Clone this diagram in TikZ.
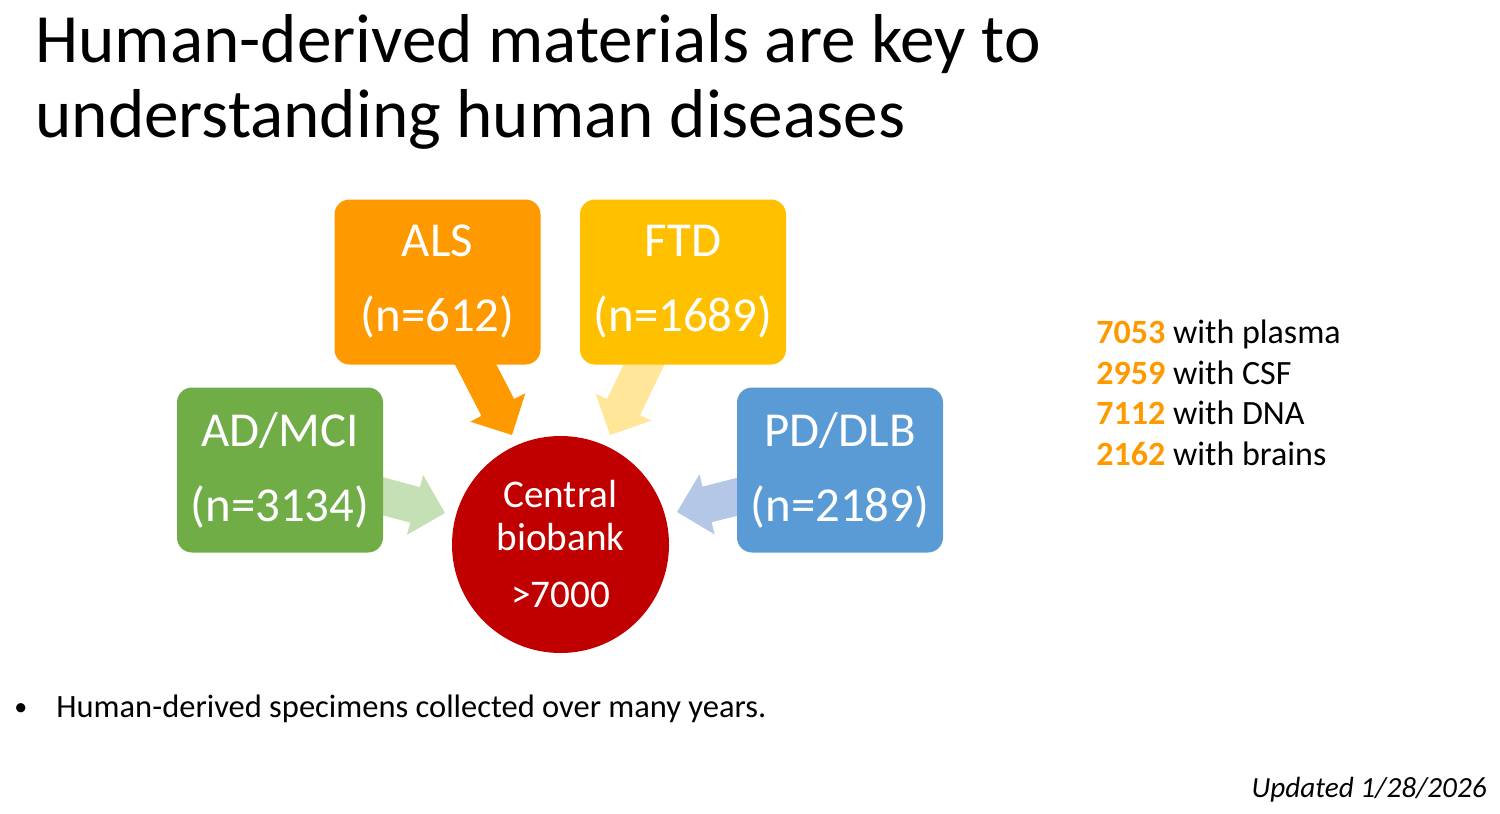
\documentclass[tikz,border=0pt]{standalone}
\usepackage{fontspec}
\setmainfont{Carlito}
\usetikzlibrary{calc,backgrounds}
\definecolor{alsor}{HTML}{FF9900}
\definecolor{ftdy}{HTML}{FFC000}
\definecolor{adg}{HTML}{70AD47}
\definecolor{pdb}{HTML}{5B9BD5}
\definecolor{cred}{HTML}{C00000}
\definecolor{ftdarr}{HTML}{FFE699}
\definecolor{adarr}{HTML}{C5E0B4}
\definecolor{pdarr}{HTML}{B4C7E7}
\definecolor{numor}{HTML}{FF9900}
\tikzset{
  dbox/.style={rounded corners=7.5pt, minimum width=103pt, minimum height=82.5pt,
    text=white, align=center, font=\fontsize{24.4}{37.5}\selectfont, inner sep=0pt},
  listtxt/.style={anchor=base west, inner sep=0pt, font=\fontsize{17}{20}\selectfont},
  titletxt/.style={anchor=base west, inner sep=0pt, font=\fontsize{34.6}{40}\selectfont},
}
\newcommand\blockarrow[3]{%
  \path (#3) coordinate (ba-t) ($(#3)!15.5pt!(#2)$) coordinate (ba-h);
  \fill[#1] ($(#2)!9.2pt!90:(ba-t)$) -- ($(ba-h)!9.2pt!90:(ba-t)$)
    -- ($(ba-h)!15.5pt!90:(ba-t)$) -- (ba-t)
    -- ($(ba-h)!15.5pt!-90:(ba-t)$) -- ($(ba-h)!9.2pt!-90:(ba-t)$)
    -- ($(#2)!9.2pt!-90:(ba-t)$) -- cycle;
}
\begin{document}
\begin{tikzpicture}[x=0.5pt,y=-0.5pt]
\useasboundingbox (0,0) rectangle (1500,814);
% title
\node[titletxt] (t1) at (35,62) {Human-derived materials are key to};
\node[titletxt] (t2) at (35,137) {understanding human diseases};
% boxes
\node[dbox, fill=alsor] (als) at (437.5,282) {ALS\\(n=612)};
\node[dbox, fill=ftdy] (ftd) at (683,282) {FTD\\(n=1689)};
\node[dbox, fill=adg] (ad) at (280,470) {AD/MCI\\(n=3134)};
\node[dbox, fill=pdb] (pd) at (840,470) {PD/DLB\\(n=2189)};
\node[circle, fill=cred, minimum size=108.5pt, inner sep=0pt, text=white, align=center,
  font=\fontsize{19.6}{21.5}\selectfont] (bank) at (560.5,544.5) {Central\\biobank\\[7pt]>7000};
% arrow end points
\coordinate (als-s) at (463,340);
\coordinate (als-t) at (512,435);
\coordinate (ftd-s) at (656,340);
\coordinate (ftd-t) at (610,435);
\coordinate (ad-s) at (360,490);
\coordinate (ad-t) at (445,513);
\coordinate (pd-s) at (760,491);
\coordinate (pd-t) at (677,512);
\begin{pgfonlayer}{background}
  \blockarrow{alsor}{als-s}{als-t}
  \blockarrow{ftdarr}{ftd-s}{ftd-t}
  \blockarrow{adarr}{ad-s}{ad-t}
  \blockarrow{pdarr}{pd-s}{pd-t}
\end{pgfonlayer}
% list
\node[listtxt] (l1) at (1096,343) {\textbf{\textcolor{numor}{7053}} with plasma};
\node[listtxt] (l2) at (1096,384) {\textbf{\textcolor{numor}{2959}} with CSF};
\node[listtxt] (l3) at (1096,424) {\textbf{\textcolor{numor}{7112}} with DNA};
\node[listtxt] (l4) at (1096,465) {\textbf{\textcolor{numor}{2162}} with brains};
% bullet
\node[anchor=base west, inner sep=0pt, font=\fontsize{13}{16}\selectfont] (bul) at (14,715) {•};
\node[anchor=base west, inner sep=0pt, font=\fontsize{16.25}{20}\selectfont] (btxt) at (56,717) {Human-derived specimens collected over many years.};
% updated
\node[anchor=base east, inner sep=0pt, font=\fontsize{14.6}{18}\selectfont\itshape] (upd) at (1487,797) {Updated 1/28/2026};
\end{tikzpicture}
\end{document}
